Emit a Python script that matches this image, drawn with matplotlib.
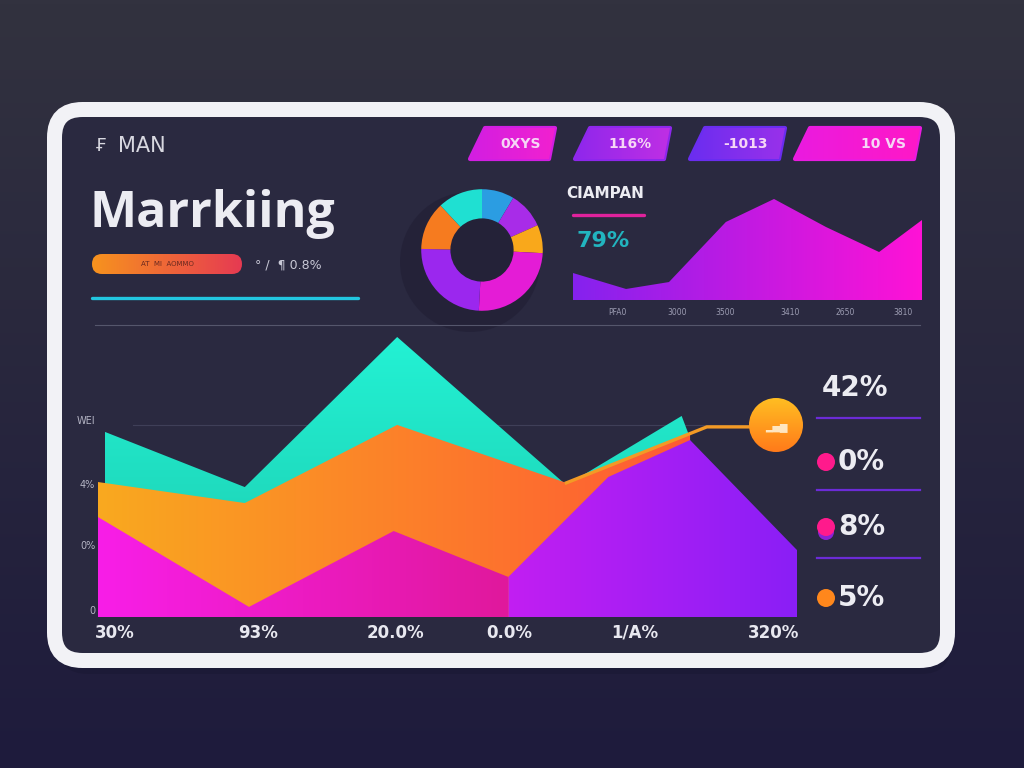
import numpy as np
import matplotlib
matplotlib.use('Agg')
import matplotlib.pyplot as plt
from matplotlib.colors import LinearSegmentedColormap
from matplotlib.patches import FancyBboxPatch, Polygon, Circle

W, H = 1024, 768

# main area chart (x = position along the axis, y = percent)
teal_x = [1.0, 21.0, 42.8, 67.0, 83.5, 84.7]
teal_y = [66.1, 46.4, 100.0, 47.1, 71.8, 63.9]
orange_x = [0.0, 21.0, 42.8, 67.0, 84.7]
orange_y = [48.2, 40.7, 68.6, 47.9, 65.5]
pink_x = [0.0, 21.6, 42.3, 58.7]
pink_y = [35.7, 3.6, 30.7, 14.3]
violet_x = [58.7, 73.0, 84.7, 100.0]
violet_y = [14.3, 50.0, 63.2, 23.9]
trend_x = [67.0, 87.1, 93.0]
trend_y = [47.9, 67.9, 67.9]
main_xticks = [2.4, 22.9, 42.5, 58.9, 76.8, 96.6]
main_xlabels = ['30%', '93%', '20.0%', '0.0%', '1/A%', '320%']
main_yticks = [2.5, 25.7, 47.5, 70.4]
main_ylabels = ['0', '0%', '4%', 'WEI']

# small campaign chart
camp_x = [0, 15.2, 27.5, 43.8, 57.6, 72.5, 87.7, 100]
camp_y = [25.7, 10.5, 17.1, 74.3, 96.2, 69.5, 45.7, 76.2]
camp_ticks = [12.6, 29.8, 43.6, 62.2, 77.9, 94.6]
camp_labels = ['PFA0', '3000', '3500', '3410', '2650', '3810']

# donut
donut_shares = [31, 35, 27, 90, 88, 46, 43]
donut_colors = ['#2b9de2', '#a82ce8', '#f9a81b', '#e41cd6', '#9b27ee', '#f67b1f', '#1fe0d2']

# top pills and right legend
pill_labels = ['0XYS', '116%', '-1013', '10 VS']
pill_colors = [('#d21ee2', '#f221cf'), ('#8e27ec', '#c02fe4'),
               ('#6a2df0', '#9a31ea'), ('#ea1be0', '#ff18c6')]
legend_values = ['42%', '0%', '8%', '5%']


def box(x0, y0, x1, y1):
    return [x0 / W, 1 - y1 / H, (x1 - x0) / W, (y1 - y0) / H]


def cmap2(c0, c1):
    return LinearSegmentedColormap.from_list('g', [c0, c1])


# horizontal (or vertical) gradient clipped to a patch or path
def grad(ax, extent, c0, c1, clip, z, vertical=False, transform=None):
    g = np.linspace(0, 1, 256).reshape(1, -1)
    if vertical:
        g = g.T
    im = ax.imshow(g, cmap=cmap2(c0, c1), extent=extent, aspect='auto',
                   zorder=z, interpolation='bicubic')
    if transform is None:
        im.set_clip_path(clip)
    else:
        im.set_clip_path(clip, transform)
    return im


def area(ax, x, y, c0, c1, z, vertical=False):
    poly = ax.fill_between(x, y, 0, facecolor='none', lw=0)
    path = poly.get_paths()[0]
    grad(ax, [min(x), max(x), 0, max(y)], c0, c1, path, z,
         vertical=vertical, transform=ax.transData)


fig = plt.figure(figsize=(10.24, 7.68), dpi=100)

# ---------------- background + panel ----------------
ax_bg = fig.add_axes([0, 0, 1, 1])
ax_bg.axis('off')
bg = np.linspace(0, 1, 256).reshape(-1, 1)
ax_bg.imshow(bg, cmap=cmap2('#32323f', '#1e1b3c'), extent=[0, W, H, 0],
             aspect='auto', zorder=0)

shadow = FancyBboxPatch((58, 118), 893, 556, boxstyle='round,pad=0,rounding_size=30',
                        fc='#17152e', ec='none', alpha=0.35, zorder=1)
ax_bg.add_patch(shadow)
panel = FancyBboxPatch((54.5, 109.5), 893, 551, boxstyle='round,pad=0,rounding_size=28',
                       fc='#2a2940', ec='#f2f2f6', lw=15 * 0.72, zorder=2)
ax_bg.add_patch(panel)

# soft shadow behind the donut
ax_bg.add_patch(Circle((470, 262), 70, fc='#201e34', ec='none', alpha=0.6, zorder=3))

# header texts
ax_bg.text(95, 146, '\u20a3', color='#d8d8e0', fontsize=13, va='center', zorder=5)
ax_bg.text(118, 146, 'MAN', color='#d8d8e0', fontsize=15, va='center',
           family='Liberation Sans Narrow', zorder=5)
ax_bg.text(90, 214, 'Marrkiing', color='#ececf2', fontsize=36, va='center',
           family='Open Sans', weight='bold', zorder=5)

bar = FancyBboxPatch((92, 254), 150, 20, boxstyle='round,pad=0,rounding_size=10',
                     fc='none', ec='none', zorder=4)
ax_bg.add_patch(bar)
grad(ax_bg, [92, 242, 274, 254], '#f7931e', '#e63a52', bar, 4)
ax_bg.text(167, 264.5, 'AT  MI  AOMMO', color='#6a2a20', fontsize=5,
           ha='center', va='center', zorder=5)
ax_bg.text(255, 265, '\u00b0 /  \u00b6 0.8%', color='#c8c8d6', fontsize=9,
           va='center', zorder=5)
ax_bg.plot([92, 358], [298, 298], color='#22c6e0', lw=2.4, solid_capstyle='round', zorder=4)
ax_bg.plot([95, 920], [325, 325], color='#55566c', lw=0.8, zorder=4)

# top pills
pill_x = [(470, 555), (575, 670), (690, 785), (795, 920)]
for (x0, x1), (c0, c1), lab in zip(pill_x, pill_colors, pill_labels):
    pg = Polygon([(x0 + 15, 128), (x1, 128), (x1 - 6, 159), (x0, 159)], closed=True,
                 fc=c0, ec=c0, lw=3, joinstyle='round', zorder=4)
    ax_bg.add_patch(pg)
    grad(ax_bg, [x0 - 2, x1 + 2, 161, 126], c0, c1, pg, 4)
    tx = x1 - 14 if x1 - x0 > 110 else (x0 + x1) / 2 + 8
    ax_bg.text(tx, 144, lab, color='#f6d6f6', fontsize=10, weight='bold',
               ha='right' if x1 - x0 > 110 else 'center', va='center', zorder=5)

# campaign header
ax_bg.text(566, 193, 'CIAMPAN', color='#ececf2', fontsize=11, weight='bold',
           va='center', family='Liberation Sans Narrow', zorder=5)
ax_bg.plot([573, 644], [215, 215], color='#e0229c', lw=2.4, solid_capstyle='round', zorder=4)
ax_bg.text(576, 241, '79%', color='#22b4bf', fontsize=16, weight='bold',
           va='center', zorder=5)

ax_bg.set_xlim(0, W)
ax_bg.set_ylim(H, 0)

# ---------------- donut ----------------
ax_d = fig.add_axes(box(420, 188, 544, 312))
ax_d.pie(donut_shares, colors=donut_colors, startangle=90, counterclock=False,
         wedgeprops=dict(width=0.48, lw=0))
ax_d.set_xlim(-1.02, 1.02)
ax_d.set_ylim(-1.02, 1.02)
ax_d.set_aspect('equal')

# ---------------- campaign area chart ----------------
ax_c = fig.add_axes(box(573, 195, 922, 300))
ax_c.set_facecolor('none')
area(ax_c, camp_x, camp_y, '#8522ee', '#ff12d6', 3)
ax_c.set_xlim(0, 100)
ax_c.set_ylim(0, 100)
for s in ax_c.spines.values():
    s.set_visible(False)
ax_c.set_yticks([])
ax_c.set_xticks(camp_ticks)
ax_c.set_xticklabels(camp_labels, fontsize=5.5, color='#9c9cb2')
ax_c.tick_params(length=0, pad=6)

# ---------------- main area chart ----------------
ax_m = fig.add_axes(box(98, 337, 797, 617))
ax_m.set_facecolor('none')
ax_m.axhline(68.6, xmin=0.05, xmax=1, color='#3f3f58', lw=0.8, zorder=0)
area(ax_m, teal_x, teal_y, '#23f2d4', '#1ccaae', 1, vertical=True)
area(ax_m, orange_x, orange_y, '#f9a91f', '#ff5a34', 2)
area(ax_m, violet_x, violet_y, '#c21ef2', '#8a1ff6', 3)
area(ax_m, pink_x, pink_y, '#f81ee8', '#e0189c', 3)
ax_m.plot(trend_x, trend_y, color='#f39a25', lw=2.4, solid_joinstyle='round', zorder=4)
ax_m.set_xlim(0, 100)
ax_m.set_ylim(0, 100)
for s in ax_m.spines.values():
    s.set_visible(False)
ax_m.set_xticks(main_xticks)
ax_m.set_xticklabels(main_xlabels, fontsize=12, weight='bold', color='#e8e8f0')
ax_m.set_yticks(main_yticks)
ax_m.set_yticklabels(main_ylabels, fontsize=7, color='#b4b4c4')
ax_m.tick_params(length=0)
ax_m.tick_params(axis='x', pad=5)
ax_m.tick_params(axis='y', pad=2)

# ---------------- overlay: marker circle + right legend ----------------
ax_t = fig.add_axes([0, 0, 1, 1])
ax_t.set_facecolor('none')
ax_t.axis('off')
circ = Circle((776, 425), 27, fc='none', ec='none', zorder=5)
ax_t.add_patch(circ)
grad(ax_t, [749, 803, 452, 398], '#ffbe22', '#ff7a1a', circ, 5, vertical=True)
ax_t.text(776, 427, '\u2582\u2585\u2587', color='#ffe6c0', fontsize=7,
          ha='center', va='center', zorder=6)

ax_t.text(822, 388, legend_values[0], color='#ececf2', fontsize=20, weight='bold',
          va='center', zorder=6)
for yl in [418, 490, 558]:
    ax_t.plot([817, 920], [yl, yl], color='#6b2bd6', lw=1.6, zorder=6)
dot_y = [462, 527, 598]
dot_c = ['#ff1a8c', '#ff1a8c', '#ff871c']
ax_t.add_patch(Circle((826, 532), 8, fc='#8a22d4', ec='none', zorder=6))
for yv, dc, lab in zip(dot_y, dot_c, legend_values[1:]):
    ax_t.add_patch(Circle((826, yv), 9, fc=dc, ec='none', zorder=7))
    ax_t.text(838, yv, lab, color='#ececf2', fontsize=20, weight='bold',
              va='center', zorder=7)
ax_t.set_xlim(0, W)
ax_t.set_ylim(H, 0)

fig.savefig('out.png', dpi=100)
